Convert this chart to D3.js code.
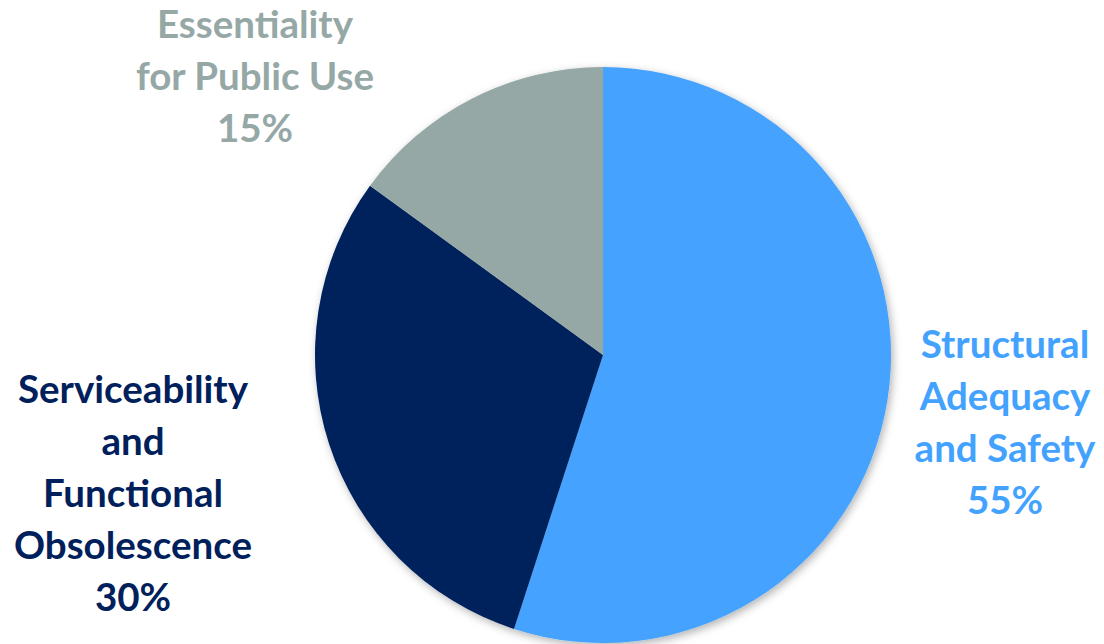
<!DOCTYPE html>
<html>
<head>
<meta charset="utf-8">
<script src="https://cdn.jsdelivr.net/npm/d3@7"></script>
<style>
  body { margin: 0; background: #fff; }
  svg text { font-family: Lato, "Open Sans", sans-serif; font-weight: 700; }
</style>
</head>
<body>
<svg id="chart" width="1104" height="644"></svg>
<script>
const categories = ['Structural Adequacy and Safety', 'Serviceability and Functional Obsolescence', 'Essentiality for Public Use']
const values = [55, 30, 15]
const labelLines = [
  ['Structural', 'Adequacy', 'and Safety', '55%'],
  ['Serviceability', 'and', 'Functional', 'Obsolescence', '30%'],
  ['Essentiality', 'for Public Use', '15%']
]
const colors = ['#44a2ff', '#00205b', '#95a8a6']

const svg = d3.select('#chart')
const cx = 603, cy = 355, radius = 288

const defs = svg.append('defs')
const shadow = defs.append('filter').attr('id', 'shadow')
  .attr('x', '-10%').attr('y', '-10%').attr('width', '120%').attr('height', '120%')
shadow.append('feDropShadow')
  .attr('dx', 2).attr('dy', 3).attr('stdDeviation', 4)
  .attr('flood-color', '#000').attr('flood-opacity', 0.3)

const data = categories.map((c, i) => ({ name: c, value: values[i], lines: labelLines[i], color: colors[i] }))

const pie = d3.pie().value(d => d.value).sort(null)
const arc = d3.arc().innerRadius(0).outerRadius(radius)

const g = svg.append('g').attr('transform', `translate(${cx},${cy})`)

g.append('g').attr('filter', 'url(#shadow)')
  .selectAll('path')
  .data(pie(data))
  .enter().append('path')
  .attr('d', arc)
  .attr('fill', d => d.data.color)

// label anchors (centre of first line), placed outside the pie
const labelPos = [
  { x: 1005, y: 345 },
  { x: 133, y: 390 },
  { x: 255, y: 25 }
]
const lineHeight = 52

data.forEach((d, i) => {
  const t = svg.append('text')
    .attr('text-anchor', 'middle')
    .attr('fill', d.color)
    .style('font-size', '38.5px')
  d.lines.forEach((line, j) => {
    t.append('tspan')
      .attr('x', labelPos[i].x)
      .attr('y', labelPos[i].y + j * lineHeight)
      .attr('dy', '0.35em')
      .text(line)
  })
})
</script>
</body>
</html>
